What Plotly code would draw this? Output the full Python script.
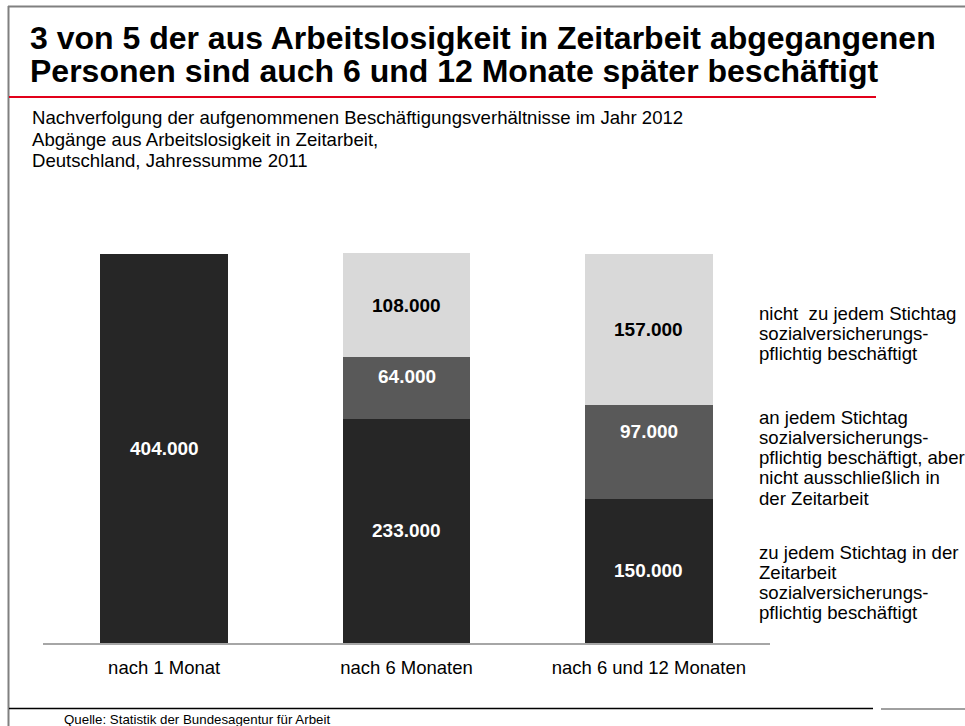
import plotly.graph_objects as go

# ---- data ----
categories = ["nach 1 Monat", "nach 6 Monaten", "nach 6 und 12 Monaten"]
seg_dark = [404, 233, 150]      # zu jedem Stichtag in der Zeitarbeit svp. beschäftigt (Tsd.)
seg_mid = [0, 64, 97]           # an jedem Stichtag svp. beschäftigt, nicht ausschließlich ZA
seg_light = [0, 108, 157]       # nicht zu jedem Stichtag svp. beschäftigt

title_lines = ["3 von 5 der aus Arbeitslosigkeit in Zeitarbeit abgegangenen",
               "Personen sind auch 6 und 12 Monate später beschäftigt"]
subtitle_lines = ["Nachverfolgung der aufgenommenen Beschäftigungsverhältnisse im Jahr 2012",
                  "Abgänge aus Arbeitslosigkeit in Zeitarbeit,",
                  "Deutschland, Jahressumme 2011"]
legend_light = ["nicht\u00a0 zu jedem Stichtag", "sozialversicherungs-", "pflichtig beschäftigt"]
legend_mid = ["an jedem Stichtag", "sozialversicherungs-", "pflichtig beschäftigt, aber",
              "nicht ausschließlich in", "der Zeitarbeit"]
legend_dark = ["zu jedem Stichtag in der", "Zeitarbeit", "sozialversicherungs-",
               "pflichtig beschäftigt"]
source = "Quelle: Statistik der Bundesagentur für Arbeit"

W, H = 965, 726
C_DARK, C_MID, C_LIGHT = "#262626", "#595959", "#d9d9d9"
FONT = "Liberation Sans, Arial, sans-serif"


def px(x):
    return x / W


def py(y):
    return 1 - y / H


fig = go.Figure()
for vals, col in [(seg_dark, C_DARK), (seg_mid, C_MID), (seg_light, C_LIGHT)]:
    fig.add_trace(go.Bar(x=categories, y=vals, marker=dict(color=col, line=dict(width=0)),
                         width=0.528, hoverinfo="skip", showlegend=False))

annotations = []


def fmt(v):
    return f"{v * 1000:,}".replace(",", ".")


mid_label_shift = [0, 11, 20]

# value labels inside segments
for i, c in enumerate(categories):
    base = 0
    for vals, col, shift in [(seg_dark, "white", 0), (seg_mid, "white", mid_label_shift[i]),
                             (seg_light, "black", 0)]:
        v = vals[i]
        if v > 0:
            annotations.append(dict(x=c, y=base + v / 2, xref="x", yref="y", text=fmt(v),
                                    showarrow=False, yshift=shift,
                                    font=dict(family=FONT, size=19, color=col, weight="bold")))
        base += v

# title
for t, yc in zip(title_lines, [38, 71]):
    annotations.append(dict(x=px(28), y=py(yc), xref="paper", yref="paper", text=t,
                            showarrow=False, xanchor="left", yanchor="middle",
                            font=dict(family=FONT, size=32, color="black", weight="bold")))
# subtitle
for t, yc in zip(subtitle_lines, [118, 140, 161]):
    annotations.append(dict(x=px(30), y=py(yc), xref="paper", yref="paper", text=t,
                            showarrow=False, xanchor="left", yanchor="middle",
                            font=dict(family=FONT, size=18.6, color="black")))
# legend text blocks
for block, y0 in [(legend_light, 313), (legend_mid, 417), (legend_dark, 552)]:
    for k, t in enumerate(block):
        annotations.append(dict(x=px(757), y=py(y0 + k * 20.3), xref="paper", yref="paper",
                                text=t, showarrow=False, xanchor="left", yanchor="middle",
                                font=dict(family=FONT, size=18.6, color="black")))
# source
annotations.append(dict(x=px(62), y=py(719), xref="paper", yref="paper", text=source,
                        showarrow=False, xanchor="left", yanchor="middle",
                        font=dict(family=FONT, size=13.3, color="black")))

shapes = [
    # frame: top and left
    dict(type="line", xref="paper", yref="paper", x0=px(8), x1=1, y0=py(6.5), y1=py(6.5),
         line=dict(color="#808080", width=2)),
    dict(type="line", xref="paper", yref="paper", x0=px(8.5), x1=px(8.5), y0=py(6), y1=0,
         line=dict(color="#808080", width=2)),
    # red line under title
    dict(type="line", xref="paper", yref="paper", x0=px(9), x1=px(876), y0=py(97), y1=py(97),
         line=dict(color="#e2001a", width=2)),
    # bottom lines
    dict(type="line", xref="paper", yref="paper", x0=px(9), x1=px(873), y0=py(708.5), y1=py(708.5),
         line=dict(color="black", width=1.5)),
    dict(type="line", xref="paper", yref="paper", x0=px(881), x1=1, y0=py(709), y1=py(709),
         line=dict(color="#808080", width=1.5)),
]

fig.update_layout(
    width=W, height=H, autosize=False,
    margin=dict(l=0, r=0, t=0, b=0),
    barmode="stack", bargap=0,
    plot_bgcolor="white", paper_bgcolor="white",
    font=dict(family=FONT, color="black"),
    hovermode=False,
    xaxis=dict(domain=[px(43), px(770)], range=[-0.5, 2.5], showgrid=False, zeroline=False,
               showline=True, linecolor="#a6a6a6", linewidth=2, ticks="",
               tickfont=dict(family=FONT, size=18.5, color="black"), ticklabelstandoff=7,
               fixedrange=True),
    yaxis=dict(domain=[py(643), py(253)], range=[0, 405], visible=False, showgrid=False,
               zeroline=False, fixedrange=True),
    annotations=annotations,
    shapes=shapes,
)

fig.write_html("out.html", config={"displayModeBar": False, "staticPlot": True},
               post_script="document.body.style.margin='0';document.body.style.overflow='hidden';")
